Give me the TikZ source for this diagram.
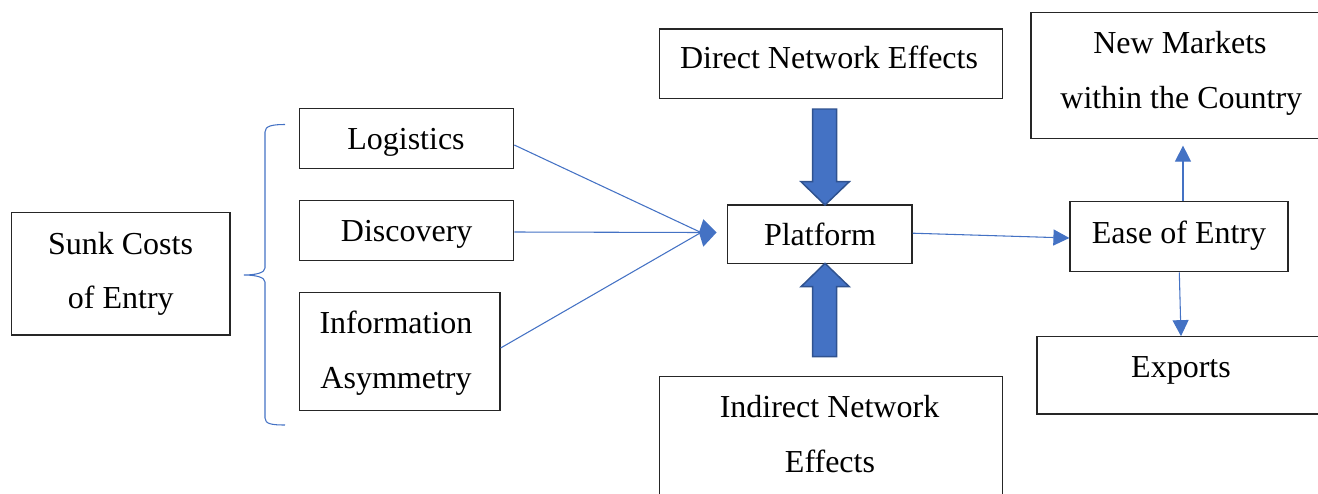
\documentclass[tikz,border=0pt]{standalone}
\usepackage{fontspec}
\setmainfont{Liberation Serif}
\usetikzlibrary{arrows.meta,calc}
\definecolor{ablue}{HTML}{4472C4}
\definecolor{dblue}{HTML}{2F528F}
\begin{document}
\begin{tikzpicture}[x=0.75pt,y=-0.75pt,
  box/.style={draw=black!85,line width=0.9pt,rectangle,inner sep=0pt},
  lbl/.style={anchor=base,inner sep=0pt,font=\fontsize{24}{29}\selectfont},
  conn/.style={draw=ablue,line width=0.8pt},
  tip/.style={-{Triangle[length=12pt,width=12pt]}},
  blockarrow/.style={fill=ablue,draw=dblue,line width=1.1pt,line join=miter}]
\useasboundingbox (0,0) rectangle (1318,493);
\clip (0,0) rectangle (1318,493);

% boxes
\node[box,minimum width=163.7pt,minimum height=91.7pt] (sunk) at (120.9,273.9) {};
\node[box,minimum width=160.8pt,minimum height=45.3pt] (logistics) at (406.5,138.5) {};
\node[box,minimum width=160.8pt,minimum height=45.3pt] (discovery) at (406.5,230.5) {};
\node[box,minimum width=150.5pt,minimum height=88.5pt] (info) at (399.7,351.7) {};
\node[box,minimum width=138.2pt,minimum height=43.7pt] (platform) at (819.9,234.2) {};
\node[box,minimum width=257.3pt,minimum height=52.3pt] (direct) at (830.8,63.9) {};
\node[box,minimum width=257.3pt,minimum height=90pt] (indirect) at (830.8,436.7) {};
\node[box,minimum width=223.5pt,minimum height=94.2pt] (newm) at (1180,75.5) {};
\node[box,minimum width=163.5pt,minimum height=52.5pt] (ease) at (1179,236.7) {};
\node[box,minimum width=216pt,minimum height=58pt] (exports) at (1181,375.4) {};

% texts
\node[lbl] (sunkA) at (120.5,254) {Sunk Costs};
\node[lbl] (sunkB) at (120.8,308.6) {of Entry};
\node[lbl] (logT) at (406,149.8) {Logistics};
\node[lbl] (disT) at (406.7,241) {Discovery};
\node[lbl] (infoA) at (396,333.5) {Information};
\node[lbl] (infoB) at (396,388.5) {Asymmetry};
\node[lbl] (platT) at (820,245.2) {Platform};
\node[lbl] (dirT) at (829,68.5) {Direct Network Effects};
\node[lbl] (indA) at (829.5,417) {Indirect Network};
\node[lbl] (indB) at (830,472) {Effects};
\node[lbl] (newA) at (1180,53.5) {New Markets};
\node[lbl] (newB) at (1181.3,108.5) {within the Country};
\node[lbl] (easeT) at (1179,243) {Ease of Entry};
\node[lbl] (expT) at (1181,377.5) {Exports};

% brace
\draw[conn] (285,124.5) .. controls (272,124.5) and (265,126) .. (265,132)
  -- (265,268) .. controls (265,273) and (255,275) .. (244,275)
  .. controls (255,275) and (265,277) .. (265,282)
  -- (265,418) .. controls (265,424) and (272,425) .. (285,425);

% converging connectors
\coordinate (hub) at (701,232.5);
\draw[conn] ($(logistics.east)+(0,6.5)$) -- (hub);
\draw[conn] ($(discovery.east)+(0,1.5)$) -- (hub);
\draw[conn] ($(info.east)+(0,-3.7)$) -- (hub);
\fill[ablue] (716.5,232.5) -- (703.3,219.3) -- (699,232.5) -- (703.3,246.7) -- cycle;

% outgoing connectors
\draw[conn,tip] ($(platform.east)+(0,-1)$) -- ($(ease.west)+(0,1.3)$);
\draw[conn,tip] ($(ease.north)+(4,0)$) -- ($(newm.south)+(3,6.7)$);
\draw[conn,tip] ($(ease.south)+(0.3,0)$) -- (exports.north);

% block arrows
\draw[blockarrow] (812.7,109) -- (836.7,109) -- (836.7,181.7) -- (849.3,181.7)
  -- (825,205) -- (801,181.7) -- (812.7,181.7) -- cycle;
\draw[blockarrow] (825,263.3) -- (849.3,286.7) -- (836.7,286.7) -- (836.7,356.7)
  -- (812.7,356.7) -- (812.7,286.7) -- (801,286.7) -- cycle;
\end{tikzpicture}
\end{document}
